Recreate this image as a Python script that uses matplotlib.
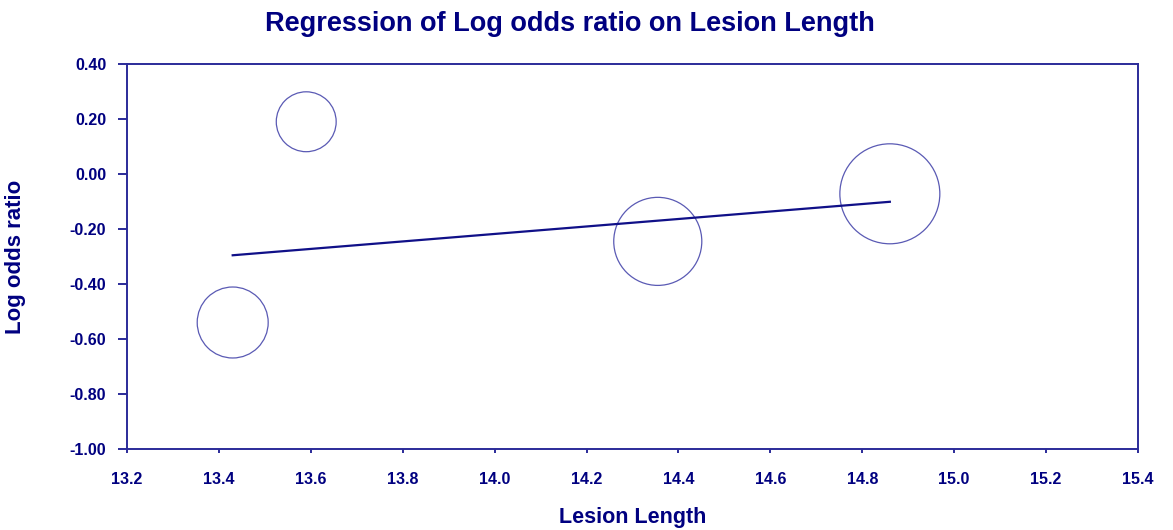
import matplotlib.pyplot as plt
import numpy as np

plt.rcParams['font.family'] = ['Liberation Sans', 'DejaVu Sans']

# study-level data
lesion_length = [13.43, 13.59, 14.355, 14.86]
log_odds = [-0.54, 0.19, -0.245, -0.072]
weights = [19.1, 13.6, 29.4, 37.9]   # percent weight, bubble area

# fitted meta-regression line
slope = 0.136
intercept = -2.122

navy = '#000080'
axis_col = '#2b2b99'

fig = plt.figure(figsize=(11.73, 5.30), dpi=100)
ax = fig.add_axes([127 / 1173, 1 - 449 / 530, 1011 / 1173, 385 / 530])

# bubble diameter in points, area proportional to weight
r_px = 8.12 * np.sqrt(weights)
sizes = (2 * r_px * 0.72) ** 2
ax.scatter(lesion_length, log_odds, s=sizes, facecolors='none',
           edgecolors='#5a5ab4', linewidths=0.9, zorder=3)

xl = np.array([min(lesion_length), max(lesion_length)])
ax.plot(xl, intercept + slope * xl, color='#101088', lw=1.6, zorder=4)

xt = np.round(np.arange(13.2, 15.41, 0.2), 1)
yt = np.round(np.arange(-1.0, 0.41, 0.2), 2) + 0.0
ax.set_xlim(13.2, 15.4)
ax.set_ylim(-1.0, 0.4)
ax.set_xticks(xt)
ax.set_yticks(yt)
ax.set_xticklabels(['%.1f' % v for v in xt])
ax.set_yticklabels(['%.2f' % abs(v) if abs(v) < 1e-9 else '%.2f' % v for v in yt])

for s in ax.spines.values():
    s.set_color(axis_col)
    s.set_linewidth(1.4)
ax.tick_params(axis='y', direction='out', length=6.5, width=1.4, color=axis_col,
               labelcolor=navy, labelsize=11.5, pad=8.5)
ax.tick_params(axis='x', direction='out', length=3, width=1.4, color=axis_col,
               labelcolor=navy, labelsize=11.5, pad=13.5)
for lab in ax.get_xticklabels() + ax.get_yticklabels():
    lab.set_fontweight('bold')

fig.text(633 / 1173, 1 - 518 / 530, 'Lesion Length', fontsize=15.5,
         fontweight='bold', color=navy, ha='center', va='center')
fig.text(16 / 1173, 1 - 257 / 530, 'Log odds ratio', fontsize=16, rotation=90,
         fontweight='bold', color=navy, ha='center', va='center')
fig.text(570 / 1173, 1 - 24 / 530, 'Regression of Log odds ratio on Lesion Length',
         fontsize=19.5, fontweight='bold', color=navy, ha='center', va='center')

fig.savefig('out.png', dpi=100)
